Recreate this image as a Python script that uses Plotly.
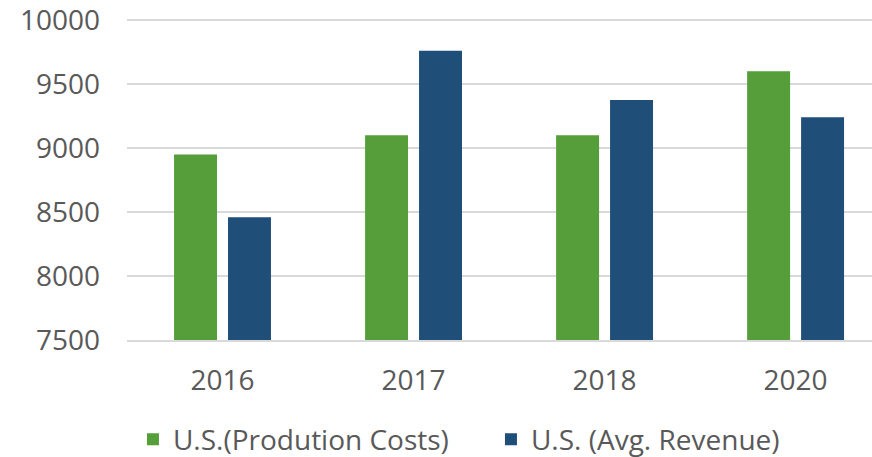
import plotly.graph_objects as go

years = ["2016", "2017", "2018", "2020"]
production_costs = [8950, 9100, 9100, 9600]
avg_revenue = [8460, 9760, 9375, 9240]
y_ticks = [7500, 8000, 8500, 9000, 9500, 10000]
y_tick_labels = ["7500", "8000", "8500", "9000", "9500", "10000"]

font = "Open Sans, Liberation Sans, sans-serif"

fig = go.Figure()
fig.add_trace(go.Bar(x=years, y=production_costs, name="U.S.(Prodution Costs)",
                     marker=dict(color="#559E3A", line=dict(width=0))))
fig.add_trace(go.Bar(x=years, y=avg_revenue, name="U.S. (Avg. Revenue)",
                     marker=dict(color="#1F4E79", line=dict(width=0))))

fig.update_layout(
    width=872, height=457,
    margin=dict(l=127, r=0, t=15, b=117, autoexpand=False),
    paper_bgcolor="white", plot_bgcolor="white",
    barmode="group", bargap=0.435, bargroupgap=0.204,
    font=dict(family=font, size=28, color="#595959"),
    showlegend=True,
    legend=dict(orientation="h", x=0.008, xanchor="left", y=-0.306, yanchor="middle",
                font=dict(size=28, color="#595959"), itemsizing="constant",
                traceorder="normal", entrywidth=313, entrywidthmode="pixels",
                bgcolor="rgba(0,0,0,0)"),
    xaxis=dict(type="category", range=[-0.5, 3.4], showgrid=False, showline=True,
               linecolor="#d9d9d9", linewidth=2, ticks="", automargin=False,
               tickfont=dict(size=28, color="#595959"), ticklabelstandoff=14),
    yaxis=dict(range=[7500, 10040], tickvals=y_ticks, ticktext=y_tick_labels,
               showgrid=True, gridcolor="#d9d9d9", automargin=False,
               gridwidth=2, zeroline=False, showline=False, ticks="",
               ticklabeloverflow="allow",
               tickfont=dict(size=28, color="#595959"), ticklabelstandoff=26),
)

fig.write_html("out.html", config={"displayModeBar": False},
               post_script="document.body.style.margin='0px';")
